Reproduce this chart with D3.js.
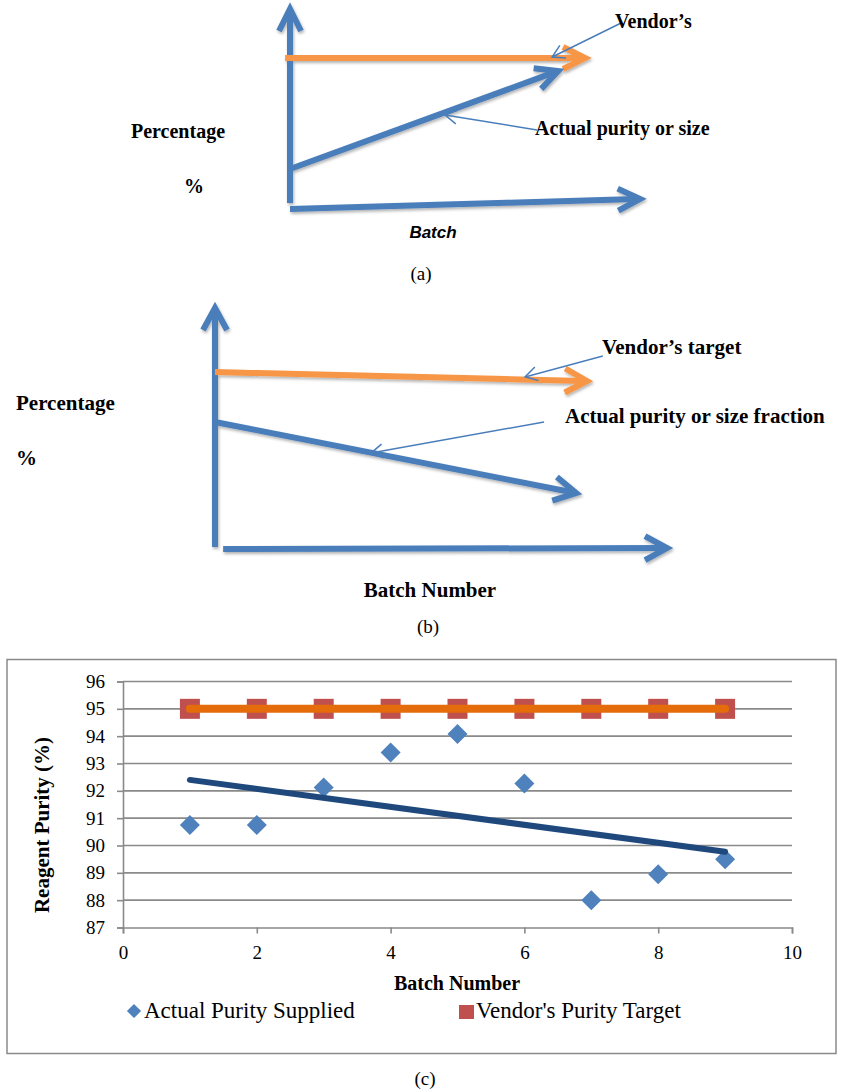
<!DOCTYPE html>
<html><head><meta charset="utf-8">
<script src="https://cdn.jsdelivr.net/npm/d3@7"></script>
<style>body{margin:0;background:#fff} svg{display:block}</style>
</head><body>
<svg id="fig" width="843" height="1092"></svg>
<script>
// ---------------- data: panel (c) ----------------
const batches = [1, 2, 3, 4, 5, 6, 7, 8, 9];
const actualPurity = [90.75, 90.75, 92.12, 93.4, 94.08, 92.27, 88.0, 88.95, 89.5];
const vendorTarget = [95, 95, 95, 95, 95, 95, 95, 95, 95];
const trendBatch = [1, 9];
const trendPurity = [92.4, 89.77];
const yTicks = [87, 88, 89, 90, 91, 92, 93, 94, 95, 96];
const xTicks = [0, 2, 4, 6, 8, 10];
const seriesNames = ["Actual Purity Supplied", "Vendor's Purity Target"];

// ---------------- schematic panels (a), (b) in 0-100 units ----------------
const aAxisY = [[0, 3], [0, 100]];
const aAxisX = [[0, 0], [100, 5]];
const aVendor = [[-1.4, 75.5], [84.3, 75.5]];
const aActual = [[0, 20], [76.6, 69]];
const aVendorPtr = [[94.6, 93], [74.9, 76]];
const aActualPtr = [[70.6, 39.5], [44.3, 47]];

const bAxisY = [[0, 0.8], [0, 100]];
const bAxisX = [[1.8, 0], [100, 0.4]];
const bVendor = [[0, 73.4], [82.3, 69.7]];
const bActual = [[0, 52.7], [79.9, 23.2]];
const bVendorPtr = [[85.8, 80.1], [68.6, 71.4]];
const bActualPtr = [[72.8, 52.7], [34.5, 39.8]];

const BLUE = "#4A7EBB", ORANGE = "#F79646";
const SERIF = "'Liberation Serif','Times New Roman',serif";
const svg = d3.select("#fig");

const defs = svg.append("defs");
const f = defs.append("filter").attr("id", "sh").attr("x", "-10%").attr("y", "-10%").attr("width", "120%").attr("height", "130%");
f.append("feDropShadow").attr("dx", 1).attr("dy", 2).attr("stdDeviation", 1.5)
  .attr("flood-color", "#000").attr("flood-opacity", 0.3);

function arrow(g, xs, ys, pts, color, width, headLen, headHalf) {
  const p0 = [xs(pts[0][0]), ys(pts[0][1])];
  const p1 = [xs(pts[1][0]), ys(pts[1][1])];
  const dx = p1[0] - p0[0], dy = p1[1] - p0[1];
  const L = Math.hypot(dx, dy);
  const u = [dx / L, dy / L], n = [-u[1], u[0]];
  const w1 = [p1[0] - u[0] * headLen + n[0] * headHalf, p1[1] - u[1] * headLen + n[1] * headHalf];
  const w2 = [p1[0] - u[0] * headLen - n[0] * headHalf, p1[1] - u[1] * headLen - n[1] * headHalf];
  const endIn = width > 3 ? width * 0.7 : 0;
  g.append("line").attr("x1", p0[0]).attr("y1", p0[1])
    .attr("x2", p1[0] - u[0] * endIn).attr("y2", p1[1] - u[1] * endIn)
    .attr("stroke", color).attr("stroke-width", width);
  g.append("path").attr("d", d3.line()([w1, p1, w2]))
    .attr("fill", "none").attr("stroke", color).attr("stroke-width", width)
    .attr("stroke-linejoin", "miter").attr("stroke-miterlimit", 10);
}

function label(x, y, txt, opts) {
  const t = svg.append("text").attr("x", x).attr("y", y).text(txt)
    .attr("font-family", opts.family || SERIF)
    .attr("font-size", opts.size || 20)
    .attr("font-weight", opts.weight || "normal")
    .attr("font-style", opts.style || "normal")
    .attr("text-anchor", opts.anchor || "start")
    .attr("fill", "#000");
  return t;
}

// ---------------- panel (a) ----------------
{
  const xs = d3.scaleLinear().domain([0, 100]).range([290, 640]);
  const ys = d3.scaleLinear().domain([0, 100]).range([209, 9]);
  const g = svg.append("g").attr("filter", "url(#sh)");
  arrow(g, xs, ys, aAxisY, BLUE, 6, 22, 11);
  arrow(g, xs, ys, aAxisX, BLUE, 6, 22, 11);
  arrow(g, xs, ys, aVendor, ORANGE, 6, 22, 11);
  arrow(g, xs, ys, aActual, BLUE, 6, 22, 11);
  const p = svg.append("g");
  arrow(p, xs, ys, aVendorPtr, BLUE, 1.5, 12, 7);
  arrow(p, xs, ys, aActualPtr, BLUE, 1.5, 12, 7);
  label(615, 28, "Vendor\u2019s", {size: 20, weight: "bold"});
  label(535, 135, "Actual purity or size", {size: 20, weight: "bold"});
  label(131, 138, "Percentage", {size: 20, weight: "bold"});
  label(184, 193, "%", {size: 20, weight: "bold"});
  label(433, 238, "Batch", {size: 17, weight: "bold", style: "italic", family: "'Liberation Sans',Arial,sans-serif", anchor: "middle"});
  label(421, 280, "(a)", {size: 19, anchor: "middle"});
}

// ---------------- panel (b) ----------------
{
  const xs = d3.scaleLinear().domain([0, 100]).range([215, 667]);
  const ys = d3.scaleLinear().domain([0, 100]).range([549, 308]);
  const g = svg.append("g").attr("filter", "url(#sh)");
  arrow(g, xs, ys, bAxisY, BLUE, 6, 22, 12);
  arrow(g, xs, ys, bAxisX, BLUE, 6, 22, 12);
  arrow(g, xs, ys, bVendor, ORANGE, 6, 22, 12);
  arrow(g, xs, ys, bActual, BLUE, 6, 22, 12);
  const p = svg.append("g");
  arrow(p, xs, ys, bVendorPtr, BLUE, 1.5, 12, 7);
  arrow(p, xs, ys, bActualPtr, BLUE, 1.5, 12, 7);
  label(602, 354, "Vendor\u2019s target", {size: 21, weight: "bold"});
  label(565, 423, "Actual purity or size fraction", {size: 21, weight: "bold"});
  label(16, 410, "Percentage", {size: 21, weight: "bold"});
  label(16, 465, "%", {size: 21, weight: "bold"});
  label(430, 597, "Batch Number", {size: 21, weight: "bold", anchor: "middle"});
  label(428, 633, "(b)", {size: 19, anchor: "middle"});
}

// ---------------- panel (c) ----------------
{
  svg.append("rect").attr("x", 7).attr("y", 659.5).attr("width", 829).attr("height", 394)
    .attr("fill", "none").attr("stroke", "#8a8a8a").attr("stroke-width", 1.5);

  const x = d3.scaleLinear().domain([0, 10]).range([123, 792]);
  const y = d3.scaleLinear().domain([87, 96]).range([927.5, 681.5]);

  // gridlines
  svg.append("g").selectAll("line").data(yTicks.slice(1)).join("line")
    .attr("x1", x(0)).attr("x2", x(10)).attr("y1", d => y(d)).attr("y2", d => y(d))
    .attr("stroke", "#8a8a8a").attr("stroke-width", 1.6);

  const yAxis = svg.append("g").attr("transform", `translate(${x(0)},0)`)
    .call(d3.axisLeft(y).tickValues(yTicks).tickSize(6).tickPadding(12));
  const xAxis = svg.append("g").attr("transform", `translate(0,${y(87)})`)
    .call(d3.axisBottom(x).tickValues(xTicks).tickSize(6).tickPadding(12));
  [yAxis, xAxis].forEach(a => {
    a.select(".domain").attr("stroke", "#8a8a8a").attr("stroke-width", 1.6);
    a.selectAll(".tick line").attr("stroke", "#8a8a8a").attr("stroke-width", 1.6);
    a.selectAll(".tick text").attr("font-family", SERIF).attr("font-size", 19).attr("fill", "#000");
  });

  // vendor target: squares + orange line
  const sq = 20;
  svg.append("g").selectAll("rect").data(batches).join("rect")
    .attr("x", (d) => x(d) - sq / 2).attr("y", (d, i) => y(vendorTarget[i]) - sq / 2)
    .attr("width", sq).attr("height", sq).attr("fill", "#C0504D");
  svg.append("path").datum(batches)
    .attr("d", d3.line().x(d => x(d)).y((d, i) => y(vendorTarget[i])))
    .attr("fill", "none").attr("stroke", "#E46C0A").attr("stroke-width", 8).attr("stroke-linecap", "round");

  // actual purity diamonds
  const diamond = d3.symbol().type(d3.symbolSquare).size(200);
  svg.append("g").selectAll("path").data(batches).join("path")
    .attr("d", diamond)
    .attr("transform", (d, i) => `translate(${x(d)},${y(actualPurity[i])}) rotate(45)`)
    .attr("fill", "#4F81BD");

  // trend line
  svg.append("path").datum(trendBatch)
    .attr("d", d3.line().x(d => x(d)).y((d, i) => y(trendPurity[i])))
    .attr("fill", "none").attr("stroke", "#1F497D").attr("stroke-width", 6).attr("stroke-linecap", "round");

  // axis titles
  label(457, 990, "Batch Number", {size: 20, weight: "bold", anchor: "middle"});
  svg.append("text").attr("transform", "translate(49,825) rotate(-90)")
    .attr("text-anchor", "middle").attr("font-family", SERIF).attr("font-size", 21)
    .attr("font-weight", "bold").text("Reagent Purity (%)");

  // legend
  svg.append("path").attr("d", d3.symbol().type(d3.symbolSquare).size(100))
    .attr("transform", "translate(134,1011) rotate(45)").attr("fill", "#4F81BD");
  label(144, 1018, seriesNames[0], {size: 23});
  svg.append("rect").attr("x", 459).attr("y", 1005).attr("width", 15).attr("height", 14).attr("fill", "#C0504D");
  label(476, 1018, seriesNames[1], {size: 23});

  label(425, 1085, "(c)", {size: 19, anchor: "middle"});
}
</script>
</body></html>
